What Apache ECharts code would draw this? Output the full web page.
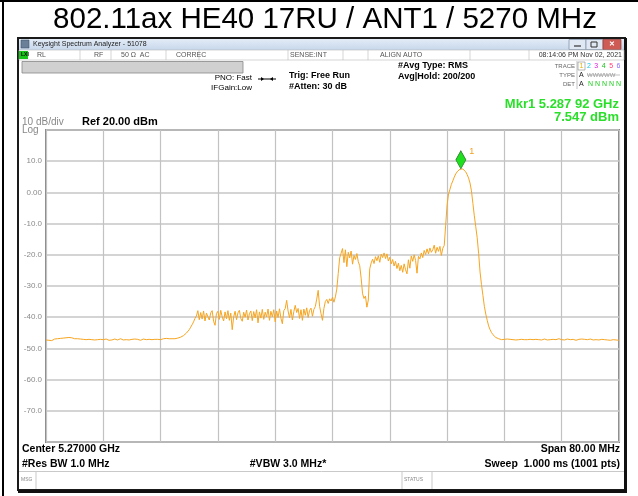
<!DOCTYPE html>
<html>
<head>
<meta charset="utf-8">
<script src="https://cdn.jsdelivr.net/npm/echarts@6/dist/echarts.min.js"></script>
<style>
  html, body { margin: 0; padding: 0; background: #fff; }
  #chart { width: 638px; height: 496px; }
</style>
</head>
<body>
<div id="chart"></div>
<script>
// Sweep: center 5270 MHz, span 80 MHz, trace sampled every 0.2 MHz
const centerMHz = 5270;
const spanMHz = 80;
const stepMHz = 0.2;

// Trace levels (dBm), one per sweep point from 5230 MHz to 5310 MHz
const floorLow = [
  -47.3, -47.1, -47.4, -47.2, -47.5, -47.3, -47.0, -47.2, -46.9, -47.1,
  -46.8, -46.6, -46.7, -46.4, -46.6, -46.3, -46.5, -46.7, -46.6, -46.8,
  -46.9, -47.1, -46.9, -47.2, -47.0, -47.3, -47.1, -47.0, -47.2, -47.3,
  -47.1, -47.4, -47.2, -47.0, -47.3, -47.1, -47.2, -47.4, -47.1, -47.0,
  -47.2, -47.3, -47.0, -47.2, -47.4, -47.1, -47.3, -47.2, -47.0, -47.1,
  -47.3, -47.2, -46.9, -47.1, -47.3, -47.0, -47.2, -47.1, -47.3, -47.4,
  -47.1, -47.2, -47.0, -47.3, -47.1, -47.2, -47.4, -47.2, -47.0, -47.1,
  -47.2, -47.3, -47.1, -47.0, -47.2, -47.3, -47.1, -46.9, -47.1, -47.0,
  -47.2, -47.0, -46.9, -47.1, -46.8, -47.0, -46.9, -47.0, -46.9
];
const rampUp = [
  -47.0, -46.9, -46.9, -46.7, -46.5, -46.4, -46.2, -45.9, -45.6, -45.1,
  -44.6, -44.0, -43.2, -42.4, -41.5, -40.4
];
const bandLow = [
  -39.6, -37.9, -40.8, -38.5, -40.6, -38.0, -41.2, -38.7, -38.2, -40.9,
  -38.6, -37.9, -41.3, -42.6, -38.8, -38.1, -40.7, -37.8, -39.9, -41.2,
  -38.3, -40.5, -37.9, -41.0, -38.7, -44.0, -39.9, -38.1, -40.8, -38.6,
  -37.8, -40.4, -41.3, -38.4, -40.0, -37.7, -40.9, -38.9, -38.0, -41.1,
  -38.2, -40.2, -37.6, -41.8, -38.3, -40.3, -37.5, -40.7, -38.4, -39.9,
  -37.4, -41.0, -38.1, -39.9, -37.6, -41.5, -38.0, -40.1, -37.3, -40.3,
  -42.1, -37.9, -37.2, -34.6, -38.0, -40.2, -37.5, -40.9, -38.2, -36.2,
  -38.5, -37.2, -40.4, -37.6, -41.0, -37.4, -39.4, -37.0, -40.1, -37.8,
  -37.1, -39.7, -37.5, -36.6, -34.2, -31.4, -36.5, -38.9, -41.0, -37.2,
  -35.0, -34.3, -35.6, -34.1, -34.8, -33.6, -35.2
];
const bandStep = [
  -33.5, -31.0, -26.0, -21.0, -19.5, -18.0,
  -22.5, -18.4, -23.8, -19.2, -21.0, -18.8, -23.0, -20.2, -21.5, -19.6, -22.2,
  -23.5, -27.5, -32.5, -34.0, -33.2, -36.8, -34.5, -24.5, -22.6
];
const bandHigh = [
  -21.4, -22.8, -20.6, -21.9, -20.3, -22.4, -19.8, -20.9, -19.4, -21.2,
  -19.7, -22.0, -20.8, -22.9, -21.5, -23.6, -22.1, -24.4, -22.7, -25.1,
  -23.4, -25.6, -22.9, -24.8, -26.1, -21.6, -24.3, -20.4, -22.1, -20.0,
  -21.8, -25.9, -20.5, -21.3, -19.4, -20.9, -18.6, -19.9, -18.1, -19.7,
  -17.8, -19.2, -18.4, -16.9, -19.5, -17.6, -18.9, -17.3, -20.2, -17.9,
  -17.0
];
const mainLobe = [
  -10.5, -4.0, -0.5, 1.0, 2.6, 3.7, 4.9, 5.9, 6.6, 7.1,
  7.45, 7.547, 7.5, 7.2, 6.6, 5.7, 4.6, 3.0, 0.5, -3.5,
  -7.5, -11.0, -14.5, -19.5, -25.5, -29.5, -33.0, -36.5, -39.0, -41.0,
  -42.8, -44.0, -44.9, -45.6, -46.1, -46.5, -46.8, -46.9
];
const floorHigh = [
  -47.0, -47.2, -46.9, -47.1, -47.3, -47.0, -47.2, -47.1, -47.4, -47.2,
  -47.0, -47.3, -47.1, -47.2, -46.9, -47.1, -47.3, -47.2, -47.0, -47.2,
  -47.4, -47.1, -47.0, -47.2, -47.3, -47.1, -46.9, -47.2, -47.1, -47.3,
  -47.2, -47.0, -47.1, -47.3, -47.4, -47.2, -47.0, -47.1, -47.3, -47.2,
  -47.1, -46.9, -47.0, -47.2, -47.1, -47.3, -47.2, -47.0, -47.1, -47.2,
  -47.3, -47.1, -47.2, -47.4, -47.2, -47.1, -47.3, -47.0, -47.2, -47.1,
  -47.3, -47.2, -47.1, -47.0, -47.2, -47.3, -47.4, -47.2, -47.1, -47.3,
  -47.2, -47.1, -47.3, -47.2, -47.4, -47.3, -47.2, -47.4, -47.3, -47.2,
  -47.4, -47.3, -47.5, -47.4
];
const traceLevels = [].concat(floorLow, rampUp, bandLow, bandStep, bandHigh, mainLobe, floorHigh);

// Marker 1
const marker = { freqMHz: 5287.92, level: 7.547 };

// Amplitude scale
const refLevel = 20;
const dbPerDiv = 10;
const yTickLabels = ['10.0', '0.00', '-10.0', '-20.0', '-30.0', '-40.0', '-50.0', '-60.0', '-70.0'];

// Header / footer annotations
const titleText = '802.11ax HE40 17RU / ANT1 / 5270 MHz';
const windowTitle = 'Keysight Spectrum Analyzer - 51078';
const statusCells = ['RL', 'RF', '50 \u03a9  AC', 'CORREC', 'SENSE:INT', 'ALIGN AUTO', '08:14:06 PM Nov 02, 2021'];
const footerLeft = ['Center 5.27000 GHz', '#Res BW 1.0 MHz'];
const footerMid = '#VBW 3.0 MHz*';
const footerRight = ['Span 80.00 MHz', 'Sweep  1.000 ms (1001 pts)'];

const startOffset = -spanMHz / 2;
const seriesData = traceLevels.map((v, i) => [startOffset + i * stepMHz, v]);

const FONT = '"Liberation Sans", Arial, sans-serif';
const chart = echarts.init(document.getElementById('chart'), null, { renderer: 'canvas' });

function txt(x, y, text, o) {
  o = o || {};
  return {
    type: 'text', x: x, y: y, z: 20,
    style: {
      text: text, fill: o.fill || '#000', fontFamily: FONT,
      fontSize: o.size || 10, fontWeight: o.bold ? 'bold' : 'normal',
      align: o.align || 'left', verticalAlign: o.va || 'middle'
    }
  };
}
function rect(x, y, w, h, fill, stroke, lw) {
  return { type: 'rect', z: 5, shape: { x: x, y: y, width: w, height: h },
    style: { fill: fill || 'none', stroke: stroke || null, lineWidth: lw || 1 } };
}
function line(x1, y1, x2, y2, color, lw) {
  return { type: 'line', z: 6, shape: { x1: x1, y1: y1, x2: x2, y2: y2 },
    style: { stroke: color, lineWidth: lw || 1 } };
}

const g = [];
// page frame lines
g.push(line(3, 0, 3, 496, '#000', 2));
g.push(line(0, 1, 638, 1, '#000', 2));
// report title
g.push(txt(325, 19.5, titleText, { size: 29.5, align: 'center' }));

// analyzer window frame
g.push(rect(18, 38, 607, 452, 'none', '#1a1a1a', 2));
g.push(rect(624, 38, 3, 455, '#111'));
g.push(rect(18, 490, 609, 3, '#111'));
// window title bar
g.push({ type: 'rect', z: 5, shape: { x: 19, y: 39, width: 605, height: 11 },
  style: { fill: new echarts.graphic.LinearGradient(0, 0, 0, 1, [
    { offset: 0, color: '#e3ecf7' }, { offset: 1, color: '#c7d7eb' }]) } });
g.push(rect(21, 40, 8, 8, '#6b7f99', '#3b4a5e', 0.5));
g.push(txt(33, 44.5, windowTitle, { size: 7, fill: '#222' }));
// window buttons
g.push(rect(569, 39.5, 17, 10, '#dfe8f3', '#7d8ea5', 0.7));
g.push(line(574, 46, 581, 46, '#333', 1.2));
g.push(rect(586, 39.5, 17, 10, '#dfe8f3', '#7d8ea5', 0.7));
g.push(rect(591, 42, 6, 5, 'none', '#333', 1));
g.push(rect(603, 39.5, 18, 10, '#cf5b55', '#8e3630', 0.7));
g.push(txt(612, 44.5, '\u2715', { size: 7, fill: '#fff', align: 'center', bold: true }));

// status row
g.push(rect(19, 50, 605, 10, '#fff', '#bbb', 0.6));
g.push(rect(19, 51, 9, 8, '#18c418'));
g.push(txt(21, 55, 'LXI', { size: 5, fill: '#000', bold: true }));
const sepX = [80, 111, 166, 199, 288, 343, 368, 470, 529];
sepX.forEach(x => g.push(line(x, 50, x, 60, '#bbb', 0.6)));
g.push(txt(37, 55, statusCells[0], { size: 7, fill: '#555' }));
g.push(txt(94, 55, statusCells[1], { size: 7, fill: '#555' }));
g.push(txt(121, 55, statusCells[2], { size: 7, fill: '#555' }));
g.push(txt(176, 55, statusCells[3], { size: 7, fill: '#555' }));
g.push(txt(290, 55, statusCells[4], { size: 7, fill: '#555' }));
g.push(txt(380, 55, statusCells[5], { size: 7, fill: '#555' }));
g.push(txt(622, 55, statusCells[6], { size: 7, fill: '#333', align: 'right' }));

// gray entry bar
g.push(rect(22, 61.5, 221, 11.5, '#d0d0d0', '#888', 0.8));

// acquisition settings
g.push(txt(252, 78, 'PNO: Fast', { size: 8, align: 'right' }));
g.push(txt(252, 88, 'IFGain:Low', { size: 8, align: 'right' }));
g.push(line(258, 79, 276, 79, '#000', 1));
g.push({ type: 'polygon', z: 6, shape: { points: [[264, 79], [261, 77], [261, 81]] }, style: { fill: '#000' } });
g.push({ type: 'polygon', z: 6, shape: { points: [[270, 79], [273, 77], [273, 81]] }, style: { fill: '#000' } });
g.push(txt(289, 76, 'Trig: Free Run', { size: 9, bold: true }));
g.push(txt(289, 87, '#Atten: 30 dB', { size: 9, bold: true }));
g.push(txt(398, 66, '#Avg Type: RMS', { size: 9, bold: true }));
g.push(txt(398, 77, 'Avg|Hold: 200/200', { size: 9, bold: true }));

// trace table
g.push(txt(575, 66, 'TRACE', { size: 6, fill: '#666', align: 'right' }));
g.push(txt(575, 75, 'TYPE', { size: 6, fill: '#666', align: 'right' }));
g.push(txt(575, 84, 'DET', { size: 6, fill: '#666', align: 'right' }));
g.push(line(577, 61, 577, 89, '#999', 0.6));
g.push(rect(578, 62, 7, 8, 'none', '#888', 0.6));
const traceNumColors = ['#e8b400', '#13c8e8', '#e020e0', '#18c018', '#ff3c78', '#8a6cff'];
traceNumColors.forEach((c, k) => g.push(txt(581.5 + k * 7.4, 66, String(k + 1), { size: 7, fill: c, align: 'center' })));
g.push(txt(579, 75, 'A', { size: 7, fill: '#222' }));
g.push(txt(587, 75, 'WWWWW', { size: 6, fill: '#999' }));
g.push(line(587, 75, 620, 75, '#999', 0.6));
g.push(txt(579, 84, 'A', { size: 7, fill: '#222' }));
g.push(txt(588, 84, 'N N N N N', { size: 7, fill: '#22cc22' }));

// marker readout
g.push(txt(619, 104, 'Mkr1 5.287 92 GHz', { size: 13, bold: true, fill: '#2adf2a', align: 'right' }));
g.push(txt(619, 117.5, '7.547 dBm', { size: 13, bold: true, fill: '#2adf2a', align: 'right' }));

// scale annotations
g.push(txt(22, 122.5, '10 dB/div', { size: 10, fill: '#888' }));
g.push(txt(22, 130.5, 'Log', { size: 10, fill: '#888' }));
g.push(txt(82, 121.5, 'Ref 20.00 dBm', { size: 11, bold: true }));

// footer
g.push(txt(22, 449.5, footerLeft[0], { size: 10.5, bold: true }));
g.push(txt(22, 464, footerLeft[1], { size: 10.5, bold: true }));
g.push(txt(288, 464, footerMid, { size: 10.5, bold: true, align: 'center' }));
g.push(txt(620, 449.5, footerRight[0], { size: 10.5, bold: true, align: 'right' }));
g.push(txt(620, 464, footerRight[1], { size: 10.5, bold: true, align: 'right' }));

// message/status bar
g.push(line(19, 471.5, 624, 471.5, '#bbb', 0.8));
g.push(line(36, 472, 36, 489, '#bbb', 0.8));
g.push(line(402, 472, 402, 489, '#bbb', 0.8));
g.push(line(432, 472, 432, 489, '#bbb', 0.8));
g.push(txt(21, 480, 'MSG', { size: 5, fill: '#888' }));
g.push(txt(404, 480, 'STATUS', { size: 5, fill: '#888' }));

const option = {
  animation: false,
  backgroundColor: '#fff',
  grid: { left: 46, top: 130, width: 573, height: 312, show: true, borderColor: '#8a8a8a', borderWidth: 2, backgroundColor: 'transparent' },
  xAxis: {
    type: 'value', min: -spanMHz / 2, max: spanMHz / 2, interval: spanMHz / 10,
    axisLine: { show: false }, axisTick: { show: false }, axisLabel: { show: false },
    splitLine: { show: true, lineStyle: { color: '#c2c2c2', width: 1.2 } }
  },
  yAxis: {
    type: 'value', min: refLevel - 10 * dbPerDiv, max: refLevel, interval: dbPerDiv,
    axisLine: { show: false }, axisTick: { show: false },
    axisLabel: {
      show: true, margin: 4, color: '#8a8a8a', fontSize: 8, fontFamily: FONT,
      formatter: function (v) {
        const k = Math.round((refLevel - dbPerDiv - v) / dbPerDiv);
        return (k >= 0 && k < yTickLabels.length) ? yTickLabels[k] : '';
      }
    },
    splitLine: { show: true, lineStyle: { color: '#c6c6c6', width: 1.6 } }
  },
  series: [{
    type: 'line', data: seriesData, showSymbol: false, symbol: 'none',
    lineStyle: { color: '#f7a520', width: 1 },
    markPoint: {
      symbol: 'diamond', symbolSize: [10, 18], symbolOffset: [0, -9],
      itemStyle: { color: '#1ee01e', borderColor: '#2e7d2e', borderWidth: 0.8 },
      label: { show: true, formatter: '1', position: 'right', offset: [-2, -8], color: '#f0a020', fontSize: 9, fontFamily: FONT },
      data: [{ coord: [marker.freqMHz - centerMHz, marker.level] }]
    }
  }],
  graphic: g
};
chart.setOption(option);
</script>
</body>
</html>
